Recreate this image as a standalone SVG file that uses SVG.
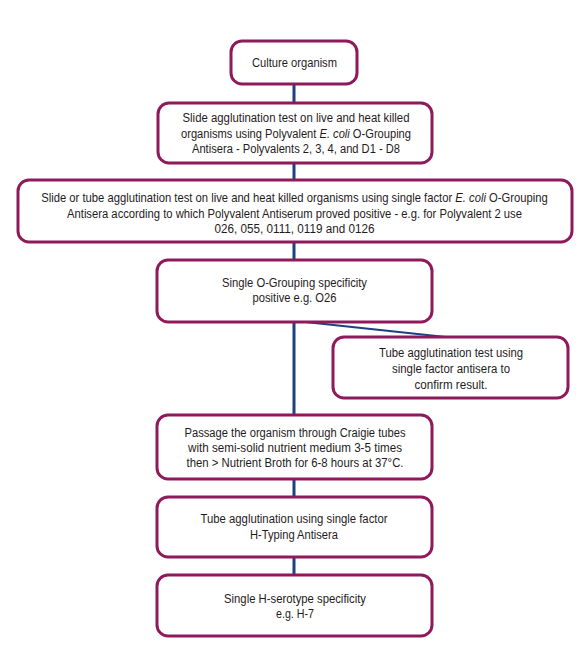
<svg xmlns="http://www.w3.org/2000/svg" width="580" height="654" viewBox="0 0 580 654">
<style>
.box{fill:#fff;stroke:#8e1a5c;stroke-width:3}
.t{font-family:"Liberation Sans",Arial,sans-serif;font-size:12.5px;fill:#1f1b1c;text-anchor:middle}
.i{font-style:italic}
.c{stroke:#1e3f80;stroke-width:3;fill:none}
.d{stroke:#1e3f80;stroke-width:2;fill:none}
</style>
<rect width="580" height="654" fill="#fff"/>
<g id="connectors">
<line class="c" x1="294" y1="84" x2="294" y2="103"/>
<line class="c" x1="294" y1="163" x2="294" y2="180"/>
<line class="c" x1="294" y1="242" x2="294" y2="260"/>
<line class="c" x1="294" y1="322" x2="294" y2="415"/>
<line class="c" x1="294" y1="479" x2="294" y2="497"/>
<line class="c" x1="294" y1="557" x2="294" y2="575"/>
<line class="d" x1="296" y1="321" x2="455" y2="338"/>
</g>
<g id="n1">
<rect class="box" x="231" y="41" width="126" height="43" rx="11"/>
<text class="t" x="294.5" y="67" textLength="85" lengthAdjust="spacingAndGlyphs">Culture organism</text>
</g>
<g id="n2">
<rect class="box" x="158" y="103" width="274" height="60" rx="11"/>
<text class="t" x="296" y="122" textLength="227" lengthAdjust="spacingAndGlyphs">Slide agglutination test on live and heat killed</text>
<text class="t" transform="translate(296,138) scale(0.89,1)" x="0" y="0">organisms using Polyvalent <tspan class="i">E. coli</tspan> O-Grouping</text>
<text class="t" x="296" y="153" textLength="208" lengthAdjust="spacingAndGlyphs">Antisera - Polyvalents 2, 3, 4, and D1 - D8</text>
</g>
<g id="n3">
<rect class="box" x="18" y="180" width="554" height="62" rx="11"/>
<text class="t" transform="translate(294.5,202) scale(0.9,1)" x="0" y="0">Slide or tube agglutination test on live and heat killed organisms using single factor <tspan class="i">E. coli</tspan> O-Grouping</text>
<text class="t" x="294.5" y="218" textLength="455" lengthAdjust="spacingAndGlyphs">Antisera according to which Polyvalent Antiserum proved positive - e.g. for Polyvalent 2 use</text>
<text class="t" x="294.5" y="233" textLength="160" lengthAdjust="spacingAndGlyphs">026, 055, 0111, 0119 and 0126</text>
</g>
<g id="n4">
<rect class="box" x="157" y="260" width="275" height="62" rx="11"/>
<text class="t" x="294.5" y="287" textLength="145" lengthAdjust="spacingAndGlyphs">Single O-Grouping specificity</text>
<text class="t" x="294.5" y="302" textLength="84" lengthAdjust="spacingAndGlyphs">positive e.g. O26</text>
</g>
<g id="n5">
<rect class="box" x="333" y="337" width="235" height="61" rx="11"/>
<text class="t" x="451" y="357" textLength="144" lengthAdjust="spacingAndGlyphs">Tube agglutination test using</text>
<text class="t" x="451" y="373" textLength="118" lengthAdjust="spacingAndGlyphs">single factor antisera to</text>
<text class="t" x="451" y="389" textLength="73" lengthAdjust="spacingAndGlyphs">confirm result.</text>
</g>
<g id="n6">
<rect class="box" x="157" y="415" width="275" height="64" rx="11"/>
<text class="t" x="295" y="437" textLength="221" lengthAdjust="spacingAndGlyphs">Passage the organism through Craigie tubes</text>
<text class="t" x="295" y="452" textLength="214" lengthAdjust="spacingAndGlyphs">with semi-solid nutrient medium 3-5 times</text>
<text class="t" x="295" y="467" textLength="217" lengthAdjust="spacingAndGlyphs">then &gt; Nutrient Broth for 6-8 hours at 37°C.</text>
</g>
<g id="n7">
<rect class="box" x="157" y="497" width="275" height="60" rx="11"/>
<text class="t" x="294" y="523" textLength="187" lengthAdjust="spacingAndGlyphs">Tube agglutination using single factor</text>
<text class="t" x="294" y="539" textLength="88" lengthAdjust="spacingAndGlyphs">H-Typing Antisera</text>
</g>
<g id="n8">
<rect class="box" x="157" y="575" width="275" height="61" rx="11"/>
<text class="t" x="295" y="603" textLength="142" lengthAdjust="spacingAndGlyphs">Single H-serotype specificity</text>
<text class="t" x="295" y="618" textLength="38" lengthAdjust="spacingAndGlyphs">e.g. H-7</text>
</g>
</svg>
